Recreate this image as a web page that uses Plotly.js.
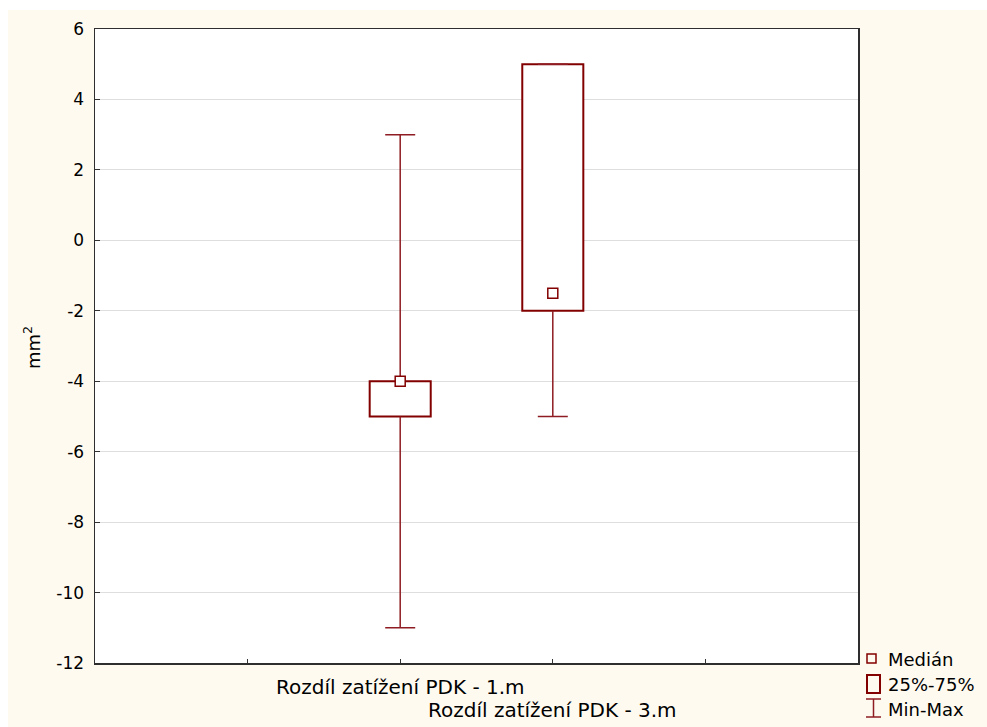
<!DOCTYPE html>
<html>
<head>
<meta charset="utf-8">
<script src="https://cdn.plot.ly/plotly-3.0.1.min.js"></script>
<style>
  html, body { margin: 0; padding: 0; background: #ffffff; }
  #chart { position: absolute; left: 8px; top: 10px; width: 979px; height: 717px; }
</style>
</head>
<body>
<div id="chart"></div>
<script>
// Box-plot summary for the two load-difference variables
const categories = ['Rozdíl zatížení PDK - 1.m', 'Rozdíl zatížení PDK - 3.m'];
const medians = [-4, -1.5];
const q1 = [-5, -2];
const q3 = [-4, 5];
const mins = [-11, -5];
const maxs = [3, 5];

const yTickVals = [-12, -10, -8, -6, -4, -2, 0, 2, 4, 6];
const yTickText = ['-12', '-10', '-8', '-6', '-4', '-2', '0', '2', '4', '6'];
const legendLabels = ['Medián', '25%-75%', 'Min-Max'];

const BOX = '#820000';
const WHISK = '#8e1c22';
const FONT = 'DejaVu Sans, Liberation Sans, Arial, sans-serif';

// category slots sit on the 2nd and 3rd of four evenly spaced ticks
const pos = categories.map((c, i) => i + 2);

// whisker stems: Q3 -> max and Q1 -> min
const stemX = [], stemY = [];
pos.forEach((p, i) => {
  stemX.push(p, p, null, p, p, null);
  stemY.push(q3[i], maxs[i], null, q1[i], mins[i], null);
});

const traces = [
  {
    type: 'bar', x: pos, base: q1, y: q3.map((v, i) => v - q1[i]),
    width: 0.4,
    marker: { color: '#ffffff', line: { color: BOX, width: 2 } },
    hoverinfo: 'skip', showlegend: false
  },
  {
    type: 'scatter', mode: 'lines', x: stemX, y: stemY,
    line: { color: WHISK, width: 1.5 },
    hoverinfo: 'skip', showlegend: false
  },
  {
    // whisker caps at the extremes
    type: 'scatter', mode: 'markers',
    x: pos.concat(pos), y: maxs.concat(mins),
    marker: { size: 1, opacity: 0 },
    error_y: { type: 'data', array: [0, 0, 0, 0], visible: true, width: 15, thickness: 1.5, color: WHISK },
    hoverinfo: 'skip', showlegend: false
  },
  {
    type: 'scatter', mode: 'markers', x: pos, y: medians,
    marker: { symbol: 'square', size: 10, color: '#ffffff', line: { color: BOX, width: 1.5 } },
    hoverinfo: 'skip', showlegend: false
  }
];

// pixel helpers for the hand-drawn legend (relative to the chart div)
const W = 979, H = 717, ML = 87, MR = 129, MT = 19, MB = 64;
const PW = W - ML - MR, PH = H - MT - MB;
const px = x => (x - 8 - ML) / PW;
const py = y => (H - MB - (y - 10)) / PH;

const shapes = [
  // median glyph
  { type: 'rect', xref: 'paper', yref: 'paper', x0: px(867), x1: px(876), y0: py(663), y1: py(654),
    line: { color: BOX, width: 1.5 }, fillcolor: 'rgba(0,0,0,0)' },
  // box glyph
  { type: 'rect', xref: 'paper', yref: 'paper', x0: px(867), x1: px(880), y0: py(693), y1: py(675),
    line: { color: BOX, width: 2 }, fillcolor: 'rgba(0,0,0,0)' },
  // whisker glyph
  { type: 'line', xref: 'paper', yref: 'paper', x0: px(873.5), x1: px(873.5), y0: py(717), y1: py(699),
    line: { color: WHISK, width: 1.5 } },
  { type: 'line', xref: 'paper', yref: 'paper', x0: px(866), x1: px(881), y0: py(699), y1: py(699),
    line: { color: WHISK, width: 1.5 } },
  { type: 'line', xref: 'paper', yref: 'paper', x0: px(866), x1: px(881), y0: py(717), y1: py(717),
    line: { color: WHISK, width: 1.5 } }
];

const annotations = [
  { text: 'mm<sup>2</sup>', xref: 'paper', yref: 'paper', x: px(32), y: py(348),
    textangle: -90, showarrow: false, xanchor: 'center', yanchor: 'middle',
    font: { family: FONT, size: 18, color: '#000' } }
];
// staggered category labels
categories.forEach((c, i) => {
  annotations.push({
    text: c, xref: 'x', yref: 'paper', x: pos[i], y: py(i === 0 ? 687 : 710),
    showarrow: false, xanchor: 'center', yanchor: 'middle',
    font: { family: FONT, size: 20, color: '#000' }
  });
});
legendLabels.forEach((t, i) => {
  annotations.push({
    text: t, xref: 'paper', yref: 'paper', x: px(886), y: py(659 + i * 25),
    showarrow: false, xanchor: 'left', yanchor: 'middle',
    font: { family: FONT, size: 18, color: '#000' }
  });
});

const layout = {
  width: W, height: H,
  margin: { l: ML, r: MR, t: MT, b: MB, pad: 0 },
  paper_bgcolor: '#fefaf0',
  plot_bgcolor: '#ffffff',
  showlegend: false,
  xaxis: {
    range: [0, 5], tickvals: [1, 2, 3, 4], showticklabels: false,
    ticks: 'inside', ticklen: 4, tickcolor: '#333', tickwidth: 1,
    showgrid: false, zeroline: false,
    showline: true, mirror: true, linecolor: '#2e2e2e', linewidth: 1.5,
    fixedrange: true
  },
  yaxis: {
    range: [-12, 6], tickvals: yTickVals, ticktext: yTickText,
    ticks: 'inside', ticklen: 5, tickcolor: '#333', tickwidth: 1,
    ticklabelstandoff: 6,
    tickfont: { family: FONT, size: 17, color: '#000' },
    showgrid: true, gridcolor: '#dedede', gridwidth: 1, zeroline: false,
    showline: true, mirror: true, linecolor: '#2e2e2e', linewidth: 1.5,
    fixedrange: true
  },
  shapes: shapes,
  annotations: annotations
};

Plotly.newPlot('chart', traces, layout, { displayModeBar: false, staticPlot: true });
</script>
</body>
</html>
